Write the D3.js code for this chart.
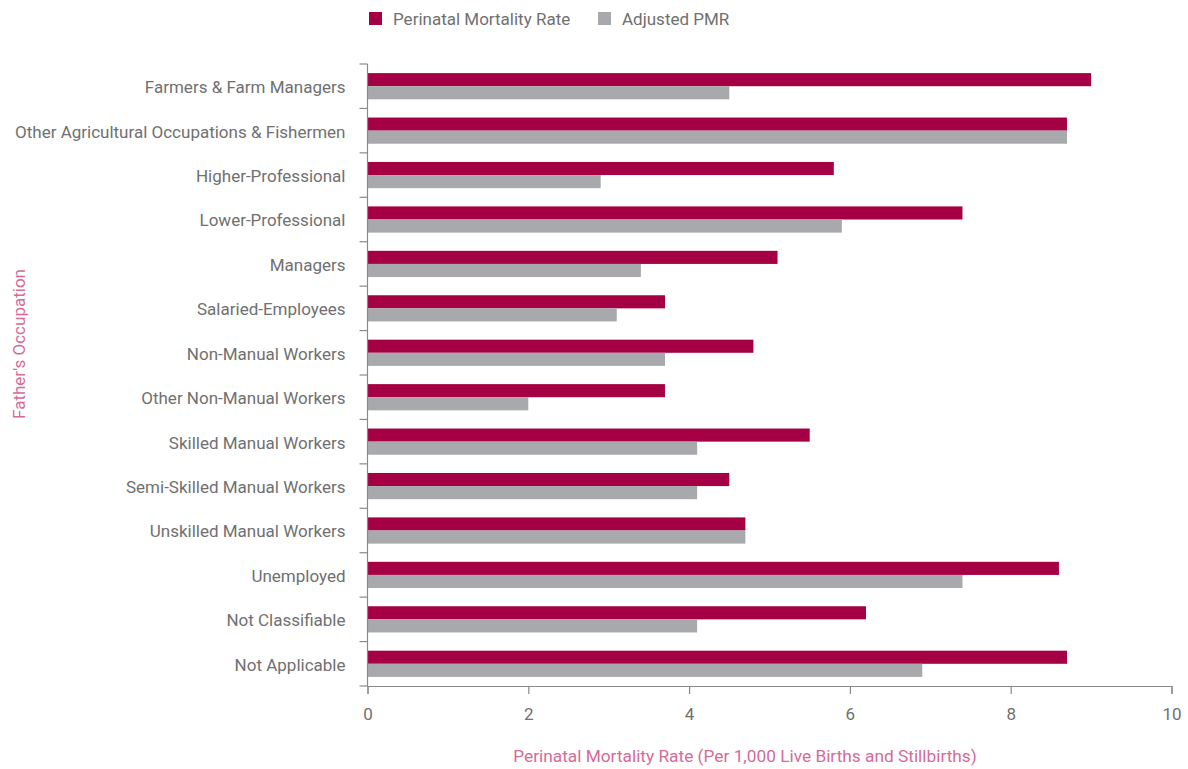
<!DOCTYPE html>
<html>
<head>
<meta charset="utf-8">
<script src="https://cdn.jsdelivr.net/npm/d3@7"></script>
<style>
  body { margin: 0; background: #fff; }
  svg { display: block; font-family: Roboto, "Liberation Sans", sans-serif; }
</style>
</head>
<body>
<svg id="chart" width="1188" height="769"></svg>
<script>
const categories = [
  "Farmers & Farm Managers",
  "Other Agricultural Occupations & Fishermen",
  "Higher-Professional",
  "Lower-Professional",
  "Managers",
  "Salaried-Employees",
  "Non-Manual Workers",
  "Other Non-Manual Workers",
  "Skilled Manual Workers",
  "Semi-Skilled Manual Workers",
  "Unskilled Manual Workers",
  "Unemployed",
  "Not Classifiable",
  "Not Applicable"
];
const pmr      = [9.0, 8.7, 5.8, 7.4, 5.1, 3.7, 4.8, 3.7, 5.5, 4.5, 4.7, 8.6, 6.2, 8.7];
const adjusted = [4.5, 8.7, 2.9, 5.9, 3.4, 3.1, 3.7, 2.0, 4.1, 4.1, 4.7, 7.4, 4.1, 6.9];
const seriesNames = ["Perinatal Mortality Rate", "Adjusted PMR"];
const seriesColors = ["#a50044", "#a8a9ac"];
const xTicks = [0, 2, 4, 6, 8, 10];

(function () {
const svg = d3.select("#chart");
const pLeft = 367.5, pRight = 1171.5, pTop = 64, pBottom = 686;
const textColor = "#707070", axisColor = "#8a8a8a", titleColor = "#d56b98";

const x = d3.scaleLinear().domain([0, 10]).range([pLeft, pRight]);
const y = d3.scaleBand().domain(categories).range([pTop, pBottom]).paddingInner(0.41).paddingOuter(0.205);
const sub = d3.scaleBand().domain(seriesNames).range([0, y.bandwidth()]);

const data = categories.map((c, i) => ({ cat: c, vals: [pmr[i], adjusted[i]] }));

// bars
const g = svg.append("g");
data.forEach(d => {
  d.vals.forEach((v, k) => {
    g.append("rect")
      .attr("x", x(0))
      .attr("y", y(d.cat) + sub(seriesNames[k]))
      .attr("width", x(v) - x(0))
      .attr("height", sub.bandwidth())
      .attr("fill", seriesColors[k]);
  });
});

// y axis: line + ticks at band boundaries
const boundaries = d3.range(categories.length + 1).map(i => pTop + i * (pBottom - pTop) / categories.length);
svg.append("line").attr("x1", pLeft).attr("x2", pLeft).attr("y1", pTop).attr("y2", pBottom)
  .attr("stroke", axisColor).attr("stroke-width", 1.2);
boundaries.forEach(b => {
  svg.append("line").attr("x1", pLeft - 8).attr("x2", pLeft).attr("y1", b).attr("y2", b)
    .attr("stroke", axisColor).attr("stroke-width", 1.2);
});
categories.forEach(c => {
  svg.append("text")
    .attr("x", pLeft - 22)
    .attr("y", y(c) + y.bandwidth() / 2 + 1)
    .attr("dy", "0.35em")
    .attr("text-anchor", "end")
    .attr("font-size", 17)
    .attr("fill", textColor)
    .text(c);
});

// x axis
const xAxis = d3.axisBottom(x).tickValues(xTicks).tickSize(8).tickPadding(14).tickFormat(d3.format("d"));
const xg = svg.append("g").attr("transform", `translate(0,${pBottom})`).call(xAxis);
xg.select(".domain").attr("stroke", axisColor).attr("stroke-width", 1.2);
xg.selectAll(".tick line").attr("stroke", axisColor).attr("stroke-width", 1.2);
xg.selectAll(".tick text").attr("fill", textColor).attr("font-size", 17)
  .attr("font-family", "Roboto, 'Liberation Sans', sans-serif");

// axis titles
svg.append("text")
  .attr("x", 745).attr("y", 762)
  .attr("text-anchor", "middle")
  .attr("font-size", 17.3)
  .attr("fill", titleColor)
  .text("Perinatal Mortality Rate (Per 1,000 Live Births and Stillbirths)");
svg.append("text")
  .attr("transform", "translate(25,344) rotate(-90)")
  .attr("text-anchor", "middle")
  .attr("font-size", 17)
  .attr("fill", titleColor)
  .text("Father's Occupation");

// legend
const legendX = [369, 598];
seriesNames.forEach((s, k) => {
  svg.append("rect").attr("x", legendX[k]).attr("y", 12).attr("width", 13).attr("height", 13)
    .attr("fill", seriesColors[k]);
  svg.append("text").attr("x", legendX[k] + 24).attr("y", 19).attr("dy", "0.35em")
    .attr("font-size", 17).attr("fill", textColor).text(s);
});
})();
</script>
</body>
</html>
